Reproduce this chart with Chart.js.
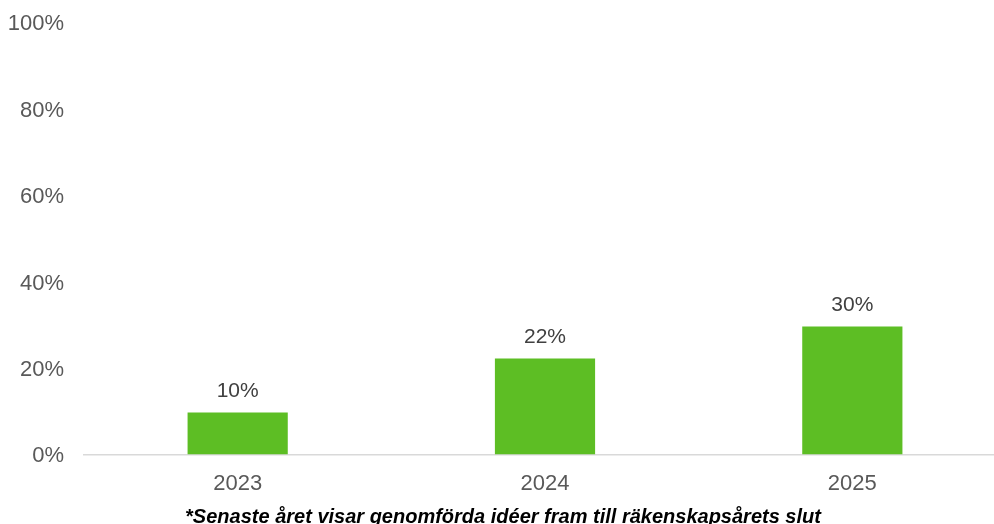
<!DOCTYPE html>
<html>
<head>
<meta charset="utf-8">
<script src="https://cdn.jsdelivr.net/npm/chart.js@4.4.1/dist/chart.umd.min.js"></script>
<style>
  html, body { margin: 0; padding: 0; background: #fff; overflow: hidden; }
  #wrap { width: 1006px; height: 524px; }
</style>
</head>
<body>
<div id="wrap"><canvas id="myChart"></canvas></div>
<script>
const years = ['2023', '2024', '2025'];
const shares = [9.7, 22.2, 29.6];
const shareLabels = ['10%', '22%', '30%'];
const footnote = '*Senaste året visar genomförda idéer fram till räkenskapsårets slut';

// labels above each bar
const barLabels = {
    id: 'barLabels',
    afterDatasetsDraw(chart) {
        const ctx = chart.ctx;
        const meta = chart.getDatasetMeta(0);
        ctx.save();
        ctx.font = '21px "Liberation Sans", Arial, sans-serif';
        ctx.fillStyle = '#404040';
        ctx.textAlign = 'center';
        ctx.textBaseline = 'bottom';
        meta.data.forEach((bar, i) => {
            ctx.fillText(shareLabels[i], bar.x, bar.y - 11);
        });
        ctx.restore();
    }
};

const ctx = document.getElementById('myChart');
const myChart = new Chart(ctx, {
    type: 'bar',
    data: {
        labels: years,
        datasets: [{
            label: 'Andel',
            data: shares,
            backgroundColor: '#5dbe24',
            borderWidth: 0,
            categoryPercentage: 1,
            barPercentage: 0.326
        }]
    },
    options: {
        responsive: true,
        maintainAspectRatio: false,
        animation: false,
        layout: { padding: { top: 22, right: 0, bottom: 0, left: 0 } },
        plugins: {
            legend: { display: false },
            tooltip: { enabled: false },
            title: {
                display: true,
                position: 'bottom',
                text: footnote,
                color: '#000',
                font: { family: '"Liberation Sans", Arial, sans-serif', size: 20, weight: 'bold', style: 'italic' },
                padding: { top: 9.6, bottom: -5 }
            }
        },
        scales: {
            x: {
                grid: { display: false, drawTicks: false },
                border: { display: true, color: '#d9d9d9', width: 1.5 },
                afterFit(scale) { scale.height = 41; },
                ticks: {
                    color: '#595959',
                    padding: 16,
                    font: { family: '"Liberation Sans", Arial, sans-serif', size: 22 }
                }
            },
            y: {
                min: 0,
                max: 100,
                grid: { display: false, drawTicks: false },
                border: { display: false },
                afterFit(scale) {
                    scale.width = 84;
                    scale.paddingTop = 0;
                    scale.paddingBottom = 0;
                },
                ticks: {
                    stepSize: 20,
                    color: '#595959',
                    padding: 20,
                    labelOffset: 2,
                    font: { family: '"Liberation Sans", Arial, sans-serif', size: 22 },
                    callback: v => v + '%'
                }
            }
        }
    },
    plugins: [barLabels]
});
</script>
</body>
</html>
